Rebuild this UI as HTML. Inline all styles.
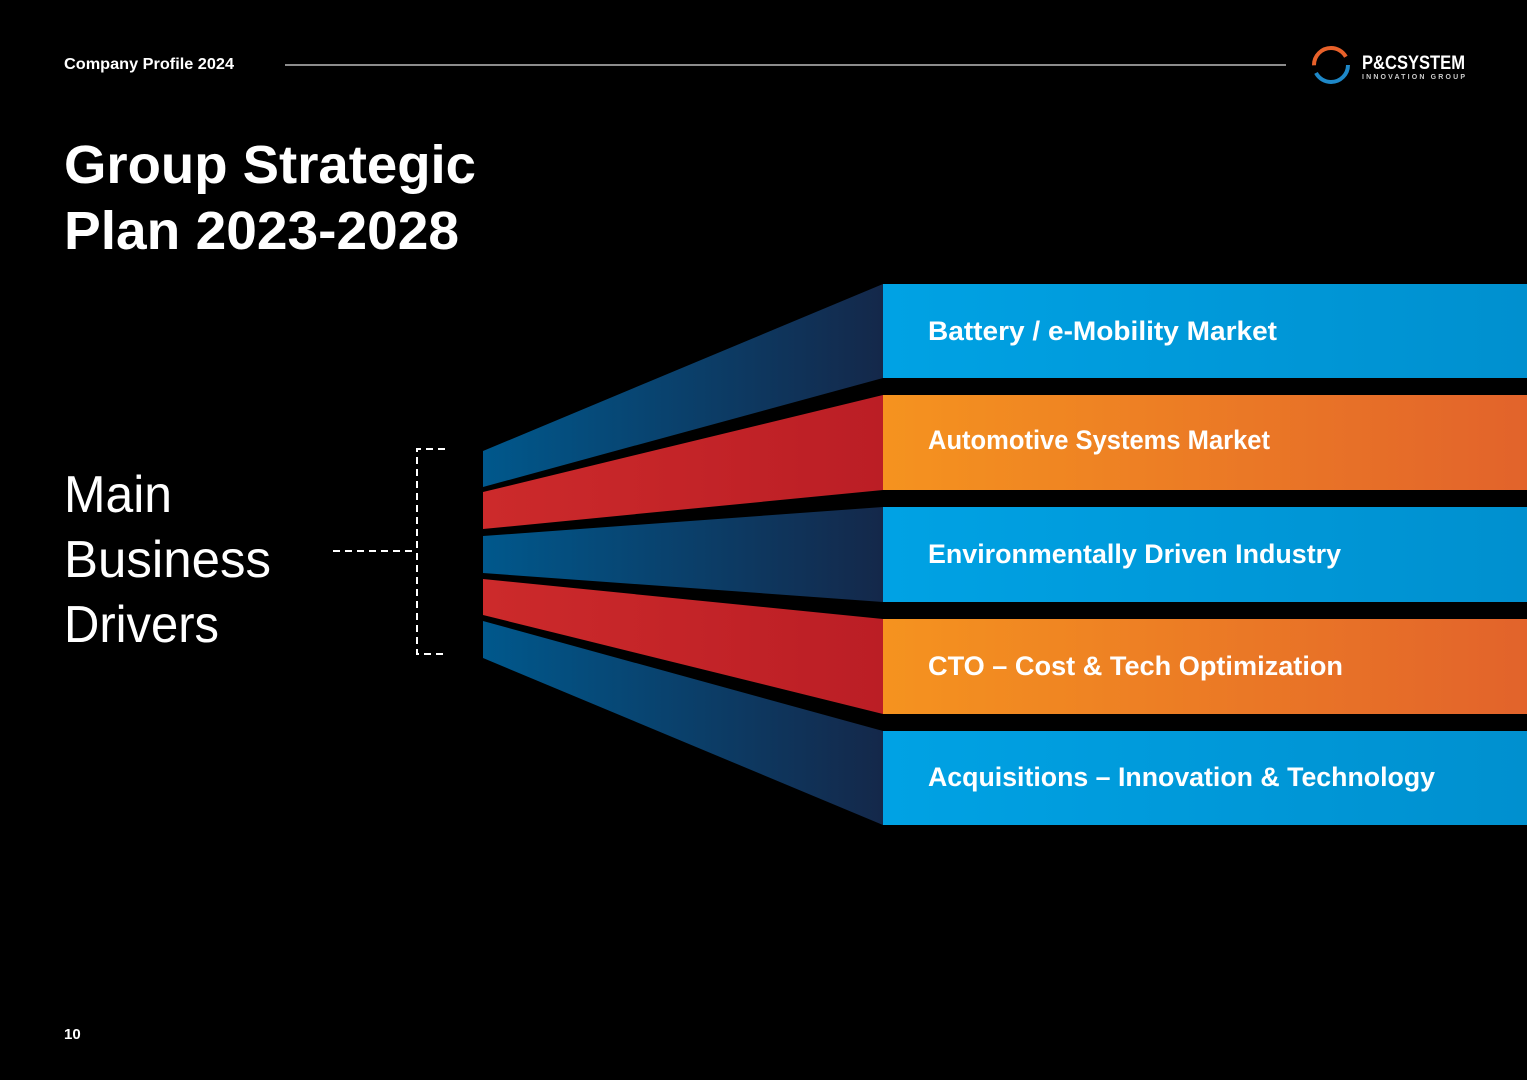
<!DOCTYPE html>
<html><head><meta charset="utf-8"><style>
html,body{margin:0;padding:0;background:#000;}
svg{display:block;}
text{font-family:"Liberation Sans",sans-serif;fill:#fff;}
</style></head><body>
<svg width="1527" height="1080" viewBox="0 0 1527 1080" xmlns="http://www.w3.org/2000/svg">
<defs>
<linearGradient id="fb" x1="0" x2="1" y1="0" y2="0"><stop offset="0" stop-color="#00588c"/><stop offset="1" stop-color="#14284a"/></linearGradient>
<linearGradient id="fr" x1="0" x2="1" y1="0" y2="0"><stop offset="0" stop-color="#cc2a2b"/><stop offset="1" stop-color="#bb1e25"/></linearGradient>
<linearGradient id="bb" x1="0" x2="1" y1="0" y2="0"><stop offset="0" stop-color="#00a2e4"/><stop offset="1" stop-color="#0090cf"/></linearGradient>
<linearGradient id="bo" x1="0" x2="1" y1="0" y2="0"><stop offset="0" stop-color="#f5931f"/><stop offset="1" stop-color="#e2632b"/></linearGradient>
</defs>
<rect width="1527" height="1080" fill="#000"/>
<text x="64" y="69" font-size="16" font-weight="bold" textLength="170" lengthAdjust="spacingAndGlyphs">Company Profile 2024</text>
<line x1="285" y1="65" x2="1286" y2="65" stroke="#bbb" stroke-width="1.5"/>
<circle cx="1331" cy="65" r="17" fill="none" stroke="#1e88c8" stroke-width="4" stroke-dasharray="45 62"/>
<circle cx="1331" cy="65" r="17" fill="none" stroke="#e8612a" stroke-width="4" stroke-dasharray="0 53 45 9"/>
<text x="1362" y="69" font-size="19" font-weight="bold" textLength="103" lengthAdjust="spacingAndGlyphs">P&amp;CSYSTEM</text>
<text x="1362" y="79" font-size="7" font-weight="bold" textLength="103" style="fill:#ccc">INNOVATION GROUP</text>
<text x="64" y="183" font-size="54" font-weight="bold" textLength="412" lengthAdjust="spacingAndGlyphs">Group Strategic</text>
<text x="64" y="249" font-size="54" font-weight="bold" textLength="395" lengthAdjust="spacingAndGlyphs">Plan 2023-2028</text>
<text x="64" y="512" font-size="52" textLength="108" lengthAdjust="spacingAndGlyphs">Main</text>
<text x="64" y="577" font-size="52" textLength="207" lengthAdjust="spacingAndGlyphs">Business</text>
<text x="64" y="642" font-size="52" textLength="155" lengthAdjust="spacingAndGlyphs">Drivers</text>
<g stroke="#fff" stroke-width="2" fill="none" stroke-dasharray="7 5">
<line x1="333" y1="551" x2="417" y2="551"/>
<polyline points="445,449 417,449 417,654 445,654"/>
</g>
<polygon points="483,451 883,284 883,378 483,487" fill="url(#fb)"/>
<polygon points="483,492 883,395 883,490 483,529" fill="url(#fr)"/>
<polygon points="483,536 883,507 883,602 483,573" fill="url(#fb)"/>
<polygon points="483,579 883,619 883,714 483,615" fill="url(#fr)"/>
<polygon points="483,621 883,731 883,825 483,658" fill="url(#fb)"/>
<rect x="883" y="284" width="644" height="94" fill="url(#bb)"/>
<rect x="883" y="395" width="644" height="95" fill="url(#bo)"/>
<rect x="883" y="507" width="644" height="95" fill="url(#bb)"/>
<rect x="883" y="619" width="644" height="95" fill="url(#bo)"/>
<rect x="883" y="731" width="644" height="94" fill="url(#bb)"/>
<g font-size="27" font-weight="bold">
<text x="928" y="340" textLength="349" lengthAdjust="spacingAndGlyphs">Battery / e-Mobility Market</text>
<text x="928" y="449" textLength="342" lengthAdjust="spacingAndGlyphs">Automotive Systems Market</text>
<text x="928" y="563" textLength="413" lengthAdjust="spacingAndGlyphs">Environmentally Driven Industry</text>
<text x="928" y="675" textLength="415" lengthAdjust="spacingAndGlyphs">CTO – Cost &amp; Tech Optimization</text>
<text x="928" y="786" textLength="507" lengthAdjust="spacingAndGlyphs">Acquisitions – Innovation &amp; Technology</text>
</g>
<text x="64" y="1039" font-size="15" font-weight="bold">10</text>
</svg>
</body></html>
